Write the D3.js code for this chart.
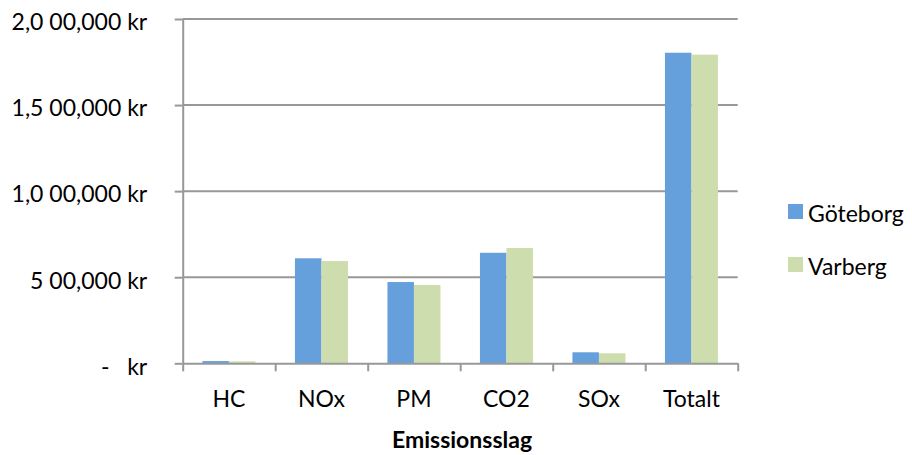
<!DOCTYPE html>
<html>
<head>
<meta charset="utf-8">
<script src="https://cdn.jsdelivr.net/npm/d3@7/dist/d3.min.js"></script>
<style>
  html, body { margin: 0; padding: 0; background: #fff; }
  svg { display: block; }
  text { font-family: Lato, "Open Sans", sans-serif; fill: #000; white-space: pre; }
</style>
</head>
<body>
<svg id="chart" width="912" height="455"></svg>
<script>
// Emission costs per emission type, in kronor
const categories = ["HC", "NOx", "PM", "CO2", "SOx", "Totalt"];
const seriesNames = ["Göteborg", "Varberg"];
const goteborg = [13000, 610000, 472000, 642000, 64000, 1804000];
const varberg  = [11000, 594000, 455000, 670000, 58000, 1793000];
const yTicks = [0, 500000, 1000000, 1500000, 2000000];
const yTickLabels = ["-   kr", "5 00,000 kr", "1,0 00,000 kr", "1,5 00,000 kr", "2,0 00,000 kr"];
const xTitle = "Emissionsslag";

const colors = ["#65A0DC", "#CEDDAD"];
const gridColor = "#989898";
const fontSize = 23;

const svg = d3.select("#chart");
const plotLeft = 182.7, plotRight = 737.7, plotTop = 19, plotBottom = 363.3;

const y = d3.scaleLinear().domain([0, 2000000]).range([plotBottom, plotTop]);
const x = d3.scaleBand().domain(categories).range([plotLeft, plotRight])
  .paddingInner(0.427).paddingOuter(0.2135);
const x1 = d3.scaleBand().domain(seriesNames).range([0, x.bandwidth()]);

// horizontal gridlines
svg.append("g").selectAll("line")
  .data(yTicks.filter(d => d > 0))
  .join("line")
  .attr("x1", plotLeft).attr("x2", plotRight)
  .attr("y1", d => y(d)).attr("y2", d => y(d))
  .attr("stroke", gridColor).attr("stroke-width", 2);

// bars
const rows = categories.map((c, i) => ({ cat: c, vals: [goteborg[i], varberg[i]] }));
svg.append("g").selectAll("g")
  .data(rows)
  .join("g")
  .attr("transform", d => `translate(${x(d.cat)},0)`)
  .selectAll("rect")
  .data(d => d.vals.map((v, j) => ({ name: seriesNames[j], v, j })))
  .join("rect")
  .attr("x", d => x1(d.name))
  .attr("width", x1.bandwidth())
  .attr("y", d => y(d.v))
  .attr("height", d => y(0) - y(d.v))
  .attr("fill", d => colors[d.j]);

// left axis
const yAxis = svg.append("g")
  .attr("transform", `translate(${plotLeft},0)`)
  .call(d3.axisLeft(y).tickValues(yTicks)
    .tickFormat((d, i) => yTickLabels[i]).tickSize(8).tickSizeOuter(0).tickPadding(27.5));
yAxis.select(".domain").attr("stroke", gridColor).attr("stroke-width", 2);
yAxis.selectAll(".tick line").attr("stroke", gridColor).attr("stroke-width", 2);
yAxis.selectAll(".tick text").attr("font-size", fontSize).attr("dy", "0.47em")
  .style("font-family", "Lato, sans-serif");

// bottom axis: tick marks at category boundaries
const xb = d3.scaleLinear().domain([0, categories.length]).range([plotLeft, plotRight]);
const xAxis = svg.append("g")
  .attr("transform", `translate(0,${plotBottom})`)
  .call(d3.axisBottom(xb).tickValues(d3.range(categories.length + 1))
    .tickFormat("").tickSize(8).tickSizeOuter(0));
xAxis.select(".domain").attr("stroke", gridColor).attr("stroke-width", 2);
xAxis.selectAll(".tick line").attr("stroke", gridColor).attr("stroke-width", 2);

// category labels
const xLab = svg.append("g")
  .attr("transform", `translate(0,${plotBottom})`)
  .call(d3.axisBottom(x).tickSize(0).tickPadding(27));
xLab.select(".domain").remove();
xLab.selectAll(".tick text").attr("font-size", fontSize).style("font-family", "Lato, sans-serif");

// axis title
svg.append("text")
  .attr("x", 462).attr("y", 448.3)
  .attr("text-anchor", "middle")
  .attr("font-size", fontSize).attr("font-weight", "bold")
  .text(xTitle);

// legend
const legend = svg.append("g").selectAll("g")
  .data(seriesNames)
  .join("g")
  .attr("transform", (d, i) => `translate(788,${204 + i * 53})`);
legend.append("rect").attr("width", 15).attr("height", 15)
  .attr("fill", (d, i) => colors[i]);
legend.append("text").attr("x", 20).attr("y", 17.5)
  .attr("font-size", fontSize).text(d => d);
</script>
</body>
</html>
